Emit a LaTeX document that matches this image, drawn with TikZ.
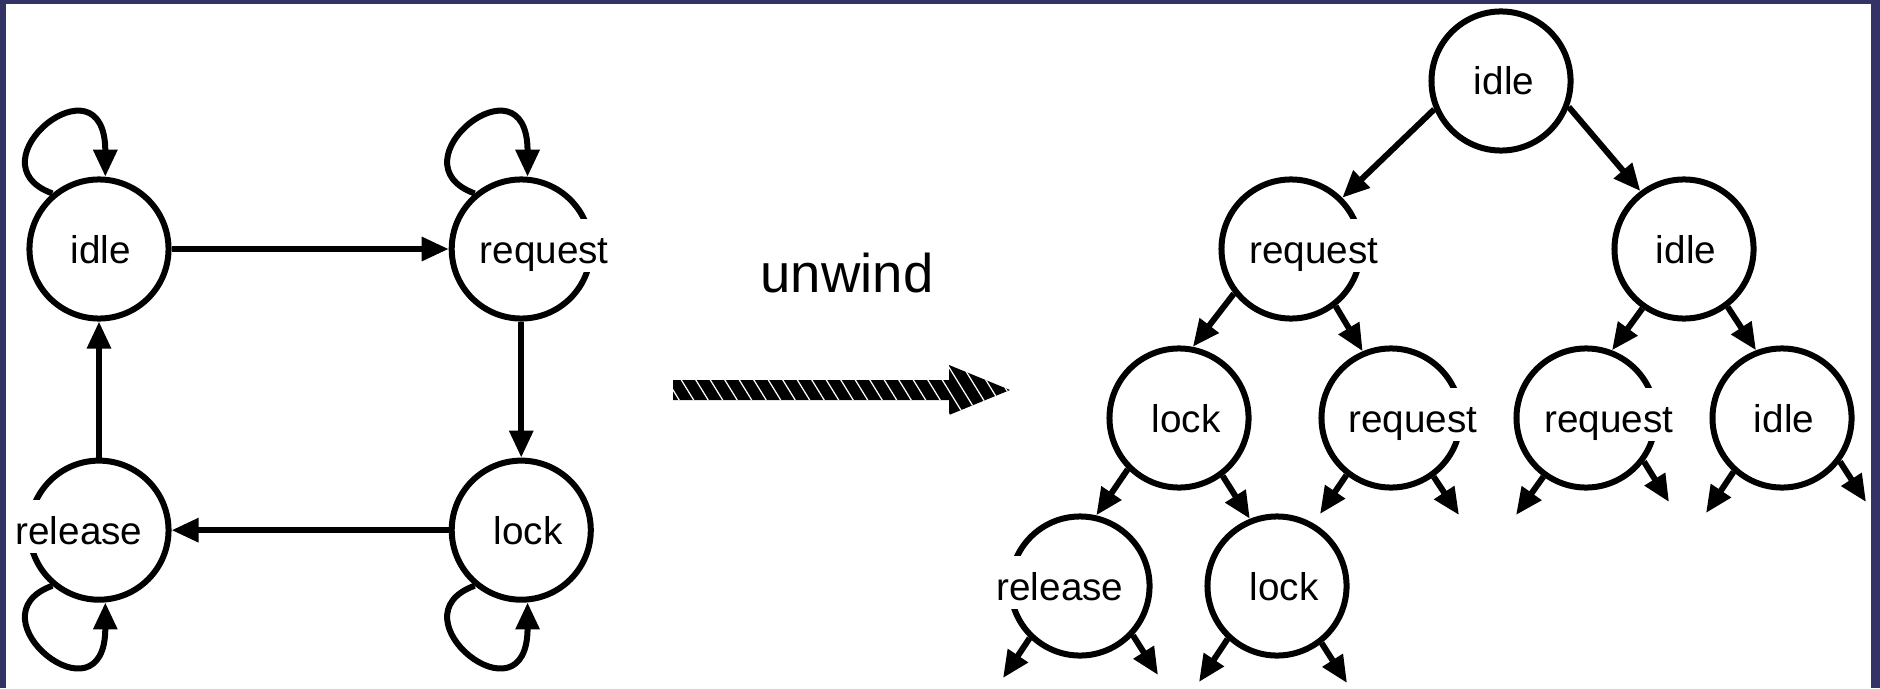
\documentclass[tikz,border=0pt]{standalone}
\usepackage{fontspec}
\setmainfont{Liberation Sans}
\usetikzlibrary{arrows.meta, positioning}

\definecolor{framecol}{RGB}{51,51,102}

\tikzset{
  state/.style={circle, draw, line width=0.06cm, minimum size=1.39cm, inner sep=0pt},
  tag/.style={anchor=base, fill=white, inner sep=0pt, text height=0.44cm, text depth=0.09cm,
    font=\fontsize{11pt}{13pt}\selectfont},
  edge/.style={line width=0.06cm, -{Triangle[length=0.27cm, width=0.23cm]}},
  loopup/.style={out=160, in=90, out distance=0.9cm, in distance=1.25cm},
  loopdown/.style={out=200, in=-90, out distance=0.9cm, in distance=1.25cm},
}

\begin{document}
\begin{tikzpicture}[x=0.01cm, y=-0.01cm, node distance=2.77cm]
    % Frame
    \useasboundingbox (0,0) rectangle (1880,688);
    \fill[framecol] (0,0) rectangle (1880,688);
    \fill[white] (6,4) rectangle (1871,688);

    % State machine
    \node (idle) [state] at (99,249) {};
    \node (request) [state, right=of idle] {};
    \node (lock) [state, below=1.36cm of request] {};
    \node (release) [state, left=of lock] {};

    \node (idle-t) [tag] at ([shift={(2,14)}]idle.center) {idle};
    \node (request-t) [tag] at ([shift={(23,14)}]request.center) {request};
    \node (lock-t) [tag] at ([shift={(7,14)}]lock.center) {lock};
    \node (release-t) [tag] at ([shift={(-20,14)}]release.center) {release};

    \draw[edge] (idle) -- (request);
    \draw[edge] (request) -- (lock);
    \draw[edge] (lock) -- (release);
    \draw[edge] (release) -- (idle);

    % Self loops
    \draw[edge] (idle.130) to[loopup] (idle.85);
    \draw[edge] (request.130) to[loopup] (request.85);
    \draw[edge] (release.230) to[loopdown] (release.275);
    \draw[edge] (lock.230) to[loopdown] (lock.275);

    % Unwind arrow
    \node (unwind) [anchor=base, font=\fontsize{15.5pt}{18pt}\selectfont] at (847,292) {unwind};
    \fill (673,380) -- (949,380) -- (949,365) -- (1010,390) -- (949,415) -- (949,400) -- (673,400) -- cycle;
    \begin{scope}
        \clip (673,380) -- (949,380) -- (949,365) -- (1010,390) -- (949,415) -- (949,400) -- (673,400) -- cycle;
        \foreach \x in {640,654.5,...,1010}
            \draw[white, line width=0.35pt] (\x,360) -- ++(37,60);
    \end{scope}

    % Unwound tree
    \foreach \n/\x/\y/\lbl/\dx in {t0/1501/81/idle/3, t1a/1291/249/request/23, t1b/1684/249/idle/2,
        t2a/1179/418/lock/7, t2b/1391/418/request/22, t2c/1586/418/request/23, t2d/1782/418/idle/2,
        t3a/1080/586/release/-20, t3b/1277/586/lock/7} {
        \node (\n) [state] at (\x,\y) {};
        \node (\n-t) [tag] at ([shift={(\dx,14)}]\n.center) {\lbl};
    }

    \foreach \a/\b in {t0.203/t1a.45, t0.-21/t1b.127, t1a.218/t2a.79, t1a.-52/t2b.113,
        t1b.235/t2c.69, t1b.-53/t2d.111, t2a.225/t3a.77, t2a.-53/t3b.112}
        \draw[edge] (\a) -- (\b);

    % Open branches
    \foreach \a/\e/\x/\y in {t2b.232/f1/1320/514, t2b.-54/f2/1459/515, t2c.234/f3/1516/515,
        t2c.-37/f4/1669/502, t2d.228/f5/1706/513, t2d.-37/f6/1866/502, t3a.226/f7/1003/678,
        t3a.-43/f8/1158/675, t3b.227/f9/1199/682, t3b.-52/f10/1347/683} {
        \coordinate (\e) at (\x,\y);
        \draw[edge] (\a) -- (\e);
    }
\end{tikzpicture}
\end{document}
